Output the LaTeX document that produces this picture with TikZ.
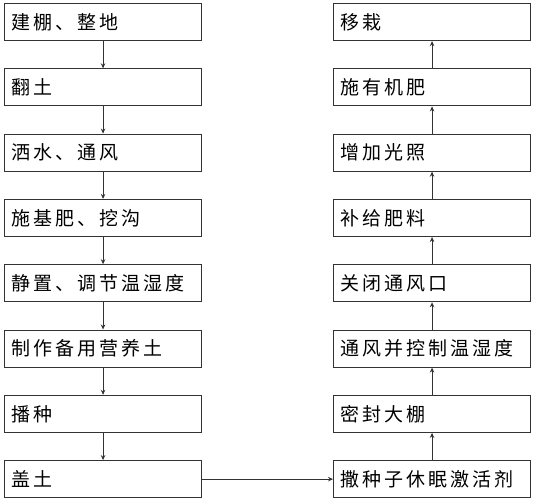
\documentclass[tikz,border=0pt]{standalone}
\usepackage{fontspec}
\newfontfamily\cjk[LetterSpace=16]{Noto Sans CJK SC}
\usetikzlibrary{arrows.meta}
\begin{document}
\begin{tikzpicture}[x=1pt,y=-1pt,
  stepbox/.style={draw=black!80,line width=1.1pt,anchor=north west,minimum width=197pt,minimum height=37pt,
    text width=183pt,align=left,inner xsep=7pt,inner ysep=0pt,font=\cjk\fontsize{19}{21}\selectfont},
  conn/.style={draw=black!80,line width=0.9pt,-{Stealth[length=5pt,width=4.5pt]}}]
\useasboundingbox (0,0) rectangle (533,500);
\foreach \n/\t [count=\i from 0] in {L0/建棚、整地,L1/翻土,L2/洒水、通风,L3/施基肥、挖沟,L4/静置、调节温湿度,L5/制作备用营养土,L6/播种,L7/盖土}{
  \node[stepbox] (\n) at (4,{3+65.3*\i}) {\t};
}
\foreach \n/\t [count=\i from 0] in {R0/移栽,R1/施有机肥,R2/增加光照,R3/补给肥料,R4/关闭通风口,R5/通风并控制温湿度,R6/密封大棚,R7/撒种子休眠激活剂}{
  \node[stepbox] (\n) at (333,{3+65.3*\i}) {\t};
}
\foreach \a/\b in {L0/L1,L1/L2,L2/L3,L3/L4,L4/L5,L5/L6,L6/L7}{
  \draw[conn] (\a.south) -- (\b.north);
}
\foreach \a/\b in {R7/R6,R6/R5,R5/R4,R4/R3,R3/R2,R2/R1,R1/R0}{
  \draw[conn] (\a.north) -- (\b.south);
}
\draw[conn] (L7.east) -- (R7.west);
\end{tikzpicture}
\end{document}
